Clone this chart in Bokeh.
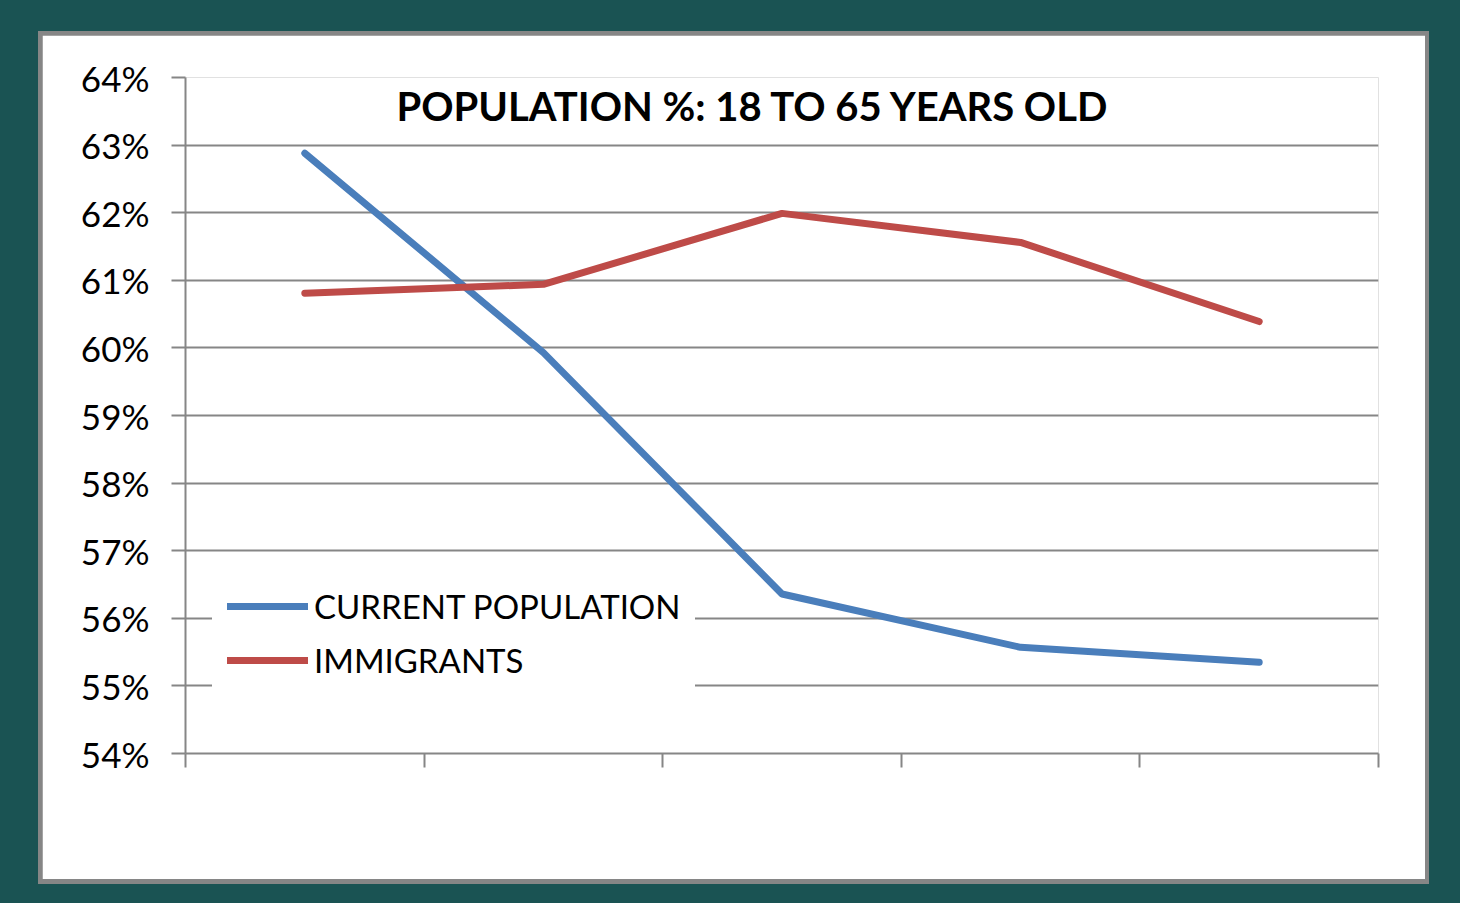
from bokeh.plotting import figure
from bokeh.layouts import column
from bokeh.models import (Legend, LegendItem, Label, FixedTicker,
                          PrintfTickFormatter, Range1d)
from bokeh.embed import file_html
from bokeh.resources import INLINE

# Age-group share of population (18 to 65 years old), five periods
periods = [0.5, 1.5, 2.5, 3.5, 4.5]
current_population = [62.88, 59.93, 56.36, 55.57, 55.35]
immigrants = [60.81, 60.94, 61.99, 61.56, 60.39]
y_ticks = [54, 55, 56, 57, 58, 59, 60, 61, 62, 63, 64]
x_ticks = [0, 1, 2, 3, 4, 5]

TEAL = "#1a5353"
GRID = "#868686"
BLUE = "#4a7ebb"
RED = "#be4b48"
FONT = "Lato"

fig = figure(width=1383, height=844, output_backend="svg", toolbar_location=None,
             x_range=Range1d(0, 5), y_range=Range1d(54, 64),
             min_border_left=143, min_border_right=47,
             min_border_top=42, min_border_bottom=126)
fig.border_fill_color = "white"
fig.background_fill_color = "white"
fig.outline_line_color = None

# axes
fig.xaxis.ticker = FixedTicker(ticks=x_ticks)
fig.xaxis.major_label_overrides = {t: "" for t in x_ticks}
fig.xaxis.axis_line_color = GRID
fig.xaxis.axis_line_width = 2
fig.xaxis.major_tick_line_color = GRID
fig.xaxis.major_tick_line_width = 2
fig.xaxis.major_tick_out = 14
fig.xaxis.major_tick_in = 0
fig.xaxis.minor_tick_line_color = None

fig.yaxis.ticker = FixedTicker(ticks=y_ticks)
fig.yaxis.formatter = PrintfTickFormatter(format="%d%%")
fig.yaxis.axis_line_color = GRID
fig.yaxis.axis_line_width = 2
fig.yaxis.major_tick_line_color = GRID
fig.yaxis.major_tick_line_width = 2
fig.yaxis.major_tick_out = 14
fig.yaxis.major_tick_in = 0
fig.yaxis.minor_tick_line_color = None
fig.yaxis.major_label_standoff = 22
fig.yaxis.major_label_text_font = FONT
fig.yaxis.major_label_text_font_size = "35px"
fig.yaxis.major_label_text_color = "black"

fig.xgrid.grid_line_color = None
fig.ygrid.ticker = FixedTicker(ticks=y_ticks)
fig.ygrid.grid_line_color = GRID
fig.ygrid.grid_line_width = 2

r_cur = fig.line(periods, current_population, line_color=BLUE, line_width=7,
                 line_cap="round", line_join="round")
r_imm = fig.line(periods, immigrants, line_color=RED, line_width=7,
                 line_cap="round", line_join="round")

title = Label(x=2.38, y=63.58, text="POPULATION %: 18 TO 65 YEARS OLD",
              text_align="center", text_baseline="alphabetic",
              text_font=FONT, text_font_style="bold", text_font_size="40px",
              text_color="black")
fig.add_layout(title)

legend = Legend(items=[LegendItem(label="CURRENT POPULATION", renderers=[r_cur]),
                       LegendItem(label="IMMIGRANTS", renderers=[r_imm])],
                location=(27, 51), padding=15, margin=0, spacing=0,
                glyph_width=81, glyph_height=54, label_height=54,
                label_standoff=6, border_line_alpha=0,
                background_fill_color="white", background_fill_alpha=1.0,
                label_text_font=FONT, label_text_font_size="33px",
                label_text_color="black")
fig.add_layout(legend, "center")

# white sheet with a grey edge, set inside a teal frame
sheet = column(fig, styles={"background-color": GRID, "padding": "4px 4px 5px 4px"})
p = column(sheet, styles={"background-color": TEAL, "padding": "31px 31px 19px 38px"})

open("out.html", "w").write(file_html(p, INLINE))
